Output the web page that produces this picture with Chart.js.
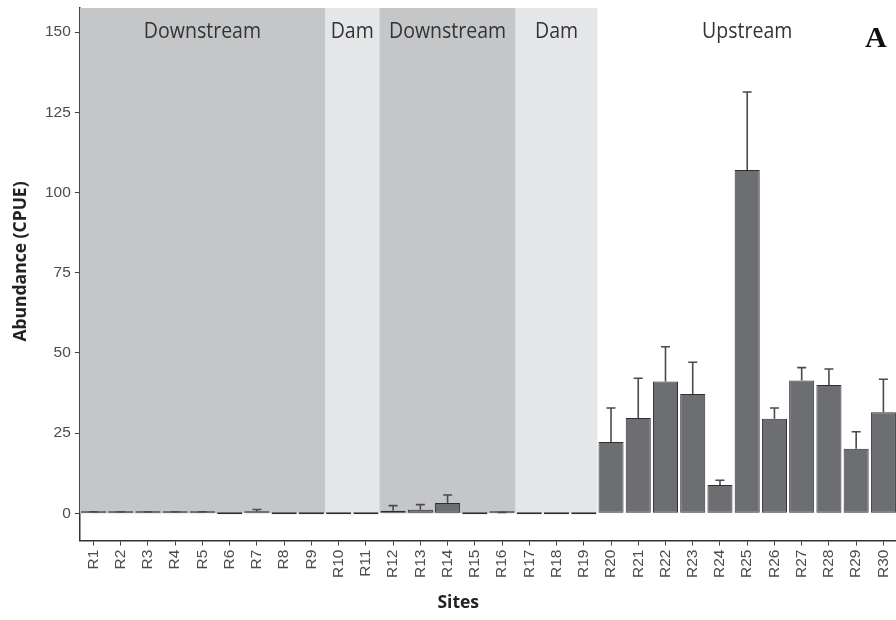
<!DOCTYPE html>
<html lang="en">
<head>
    <meta charset="UTF-8">
    <title>Abundance (CPUE) by site</title>
    <script src="https://cdn.jsdelivr.net/npm/chart.js"></script>
    <style>
        body {
            margin: 0;
            background: #fff;
        }
        .wrap {
            position: relative;
            width: 896px;
            height: 620px;
            overflow: hidden;
        }
        .panel-tag {
            position: absolute;
            left: 865px;
            top: 20px;
            font-family: 'Liberation Serif', serif;
            font-weight: bold;
            font-size: 30px;
            color: #111;
        }
    </style>
</head>
<body>
    <div class="wrap">
        <!-- a bit wider than the window: the original figure is cut at the right edge -->
        <canvas id="cpueChart" width="906" height="620"></canvas>
        <div class="panel-tag">A</div>
    </div>
    <script>
        // Sites and mean abundance (CPUE) with upper error (SE)
        const sites = ['R1', 'R2', 'R3', 'R4', 'R5', 'R6', 'R7', 'R8', 'R9', 'R10',
            'R11', 'R12', 'R13', 'R14', 'R15', 'R16', 'R17', 'R18', 'R19', 'R20',
            'R21', 'R22', 'R23', 'R24', 'R25', 'R26', 'R27', 'R28', 'R29', 'R30'];
        const abundance = [0.2, 0.2, 0.2, 0.2, 0.2, 0, 0.5, 0, 0, 0,
            0, 0.8, 1.1, 3.2, 0, 0.1, 0, 0, 0, 22.2,
            29.7, 41.1, 37.2, 8.8, 107.0, 29.5, 41.4, 40.0, 20.1, 31.5];
        const errorSE = [0.3, 0.3, 0.3, 0.3, 0.3, 0, 0.7, 0, 0, 0,
            0, 1.6, 1.6, 2.5, 0, 0.2, 0, 0, 0, 10.6,
            12.4, 10.8, 9.9, 1.5, 24.3, 3.3, 4.0, 5.0, 5.3, 10.3];
        const yTicks = [0, 25, 50, 75, 100, 125, 150];

        // Stretches of river (first and last site index)
        const regionNames = ['Downstream', 'Dam', 'Downstream', 'Dam', 'Upstream'];
        const regionFirst = [0, 9, 11, 16, 19];
        const regionLast = [8, 10, 15, 18, 29];
        const regionKind = ['down', 'dam', 'down', 'dam', 'up'];

        const xTitle = 'Sites';
        const yTitle = 'Abundance (CPUE)';

        const shade = { down: '#c5c6c8', dam: '#e5e6e8', up: null };
        const tickFont = { family: 'Liberation Sans, Arial, sans-serif', size: 15.5 };
        const titleFont = { family: '"Open Sans", sans-serif', size: 17.5, weight: 'bold' };

        // Region backgrounds + labels
        const regionsPlugin = {
            id: 'regions',
            beforeDatasetsDraw(chart) {
                const { ctx, chartArea, scales: { x, y } } = chart;
                const step = x.width / sites.length;
                const zero = y.getPixelForValue(0);
                ctx.save();
                regionNames.forEach((name, i) => {
                    const left = x.getPixelForValue(regionFirst[i]) - step / 2;
                    const right = x.getPixelForValue(regionLast[i]) + step / 2;
                    const fill = shade[regionKind[i]];
                    if (fill) {
                        ctx.fillStyle = fill;
                        ctx.fillRect(left, chartArea.top, right - left, zero - chartArea.top);
                    }
                    // slightly condensed text, like the original
                    ctx.save();
                    ctx.translate((left + right) / 2, y.getPixelForValue(150));
                    ctx.scale(0.93, 1);
                    ctx.fillStyle = '#333';
                    ctx.font = '400 21px "Open Sans", sans-serif';
                    ctx.textAlign = 'center';
                    ctx.textBaseline = 'middle';
                    ctx.fillText(name, 0, 0);
                    ctx.restore();
                });
                ctx.restore();
            }
        };

        // Error bars (upper only)
        const errorBarsPlugin = {
            id: 'errorBars',
            afterDatasetsDraw(chart) {
                const { ctx, scales: { x, y } } = chart;
                ctx.save();
                ctx.strokeStyle = '#4a4a4a';
                ctx.lineWidth = 1.6;
                abundance.forEach((v, i) => {
                    if (!errorSE[i]) return;
                    const cx = x.getPixelForValue(i);
                    const y0 = y.getPixelForValue(v);
                    const y1 = y.getPixelForValue(v + errorSE[i]);
                    ctx.beginPath();
                    ctx.moveTo(cx, y0);
                    ctx.lineTo(cx, y1);
                    ctx.moveTo(cx - 4.5, y1);
                    ctx.lineTo(cx + 4.5, y1);
                    ctx.stroke();
                });
                ctx.restore();
            }
        };

        // Axis titles, placed a little off-centre as in the original figure
        const axisTitlesPlugin = {
            id: 'axisTitles',
            afterDraw(chart) {
                const { ctx, chartArea, scales: { x, y } } = chart;
                ctx.save();
                ctx.fillStyle = '#222';
                ctx.font = `bold ${titleFont.size}px ${titleFont.family}`;
                ctx.textAlign = 'center';
                ctx.textBaseline = 'middle';
                ctx.fillText(xTitle, chartArea.left + chartArea.width * 0.463, x.bottom - 12);
                ctx.translate(y.left + 10, chartArea.top + chartArea.height * 0.476);
                ctx.rotate(-Math.PI / 2);
                ctx.fillText(yTitle, 0, 0);
                ctx.restore();
            }
        };

        const ctx = document.getElementById('cpueChart').getContext('2d');
        const cpueChart = new Chart(ctx, {
            type: 'bar',
            data: {
                labels: sites,
                datasets: [{
                    label: yTitle,
                    data: abundance,
                    backgroundColor: '#6d6e71',
                    borderColor: '#2e2e2e',
                    borderWidth: 1,
                    borderSkipped: false,
                    minBarLength: 2,
                    categoryPercentage: 1,
                    barPercentage: 0.92
                }]
            },
            options: {
                responsive: false,
                animation: false,
                layout: { padding: { top: 8, right: 0, left: 11, bottom: 5 } },
                plugins: {
                    legend: { display: false },
                    tooltip: { enabled: false }
                },
                scales: {
                    x: {
                        grid: {
                            offset: false,
                            drawOnChartArea: false,
                            drawTicks: true,
                            tickLength: 5,
                            color: '#444'
                        },
                        border: { display: true, color: '#333', width: 1.5 },
                        ticks: {
                            minRotation: 90,
                            maxRotation: 90,
                            autoSkip: false,
                            padding: 4,
                            color: '#4d4d4d',
                            font: tickFont
                        },
                        // space only; the text is drawn by axisTitlesPlugin
                        title: {
                            display: true,
                            text: xTitle,
                            color: 'rgba(0,0,0,0)',
                            padding: { top: 12, bottom: 0 },
                            font: titleFont
                        }
                    },
                    y: {
                        min: -8.5,
                        max: 157.5,
                        afterBuildTicks(scale) {
                            scale.ticks = yTicks.map(v => ({ value: v }));
                        },
                        // top label sits well below the axis end, no extra room needed
                        afterFit(scale) {
                            scale.paddingTop = 0;
                        },
                        grid: {
                            drawOnChartArea: false,
                            drawTicks: true,
                            tickLength: 5,
                            color: '#444'
                        },
                        border: { display: true, color: '#333', width: 1.5 },
                        ticks: {
                            padding: 4,
                            color: '#4d4d4d',
                            font: tickFont
                        },
                        title: {
                            display: true,
                            text: yTitle,
                            color: 'rgba(0,0,0,0)',
                            padding: { top: 0, bottom: 9 },
                            font: titleFont
                        }
                    }
                }
            },
            plugins: [regionsPlugin, errorBarsPlugin, axisTitlesPlugin]
        });
    </script>
</body>
</html>
